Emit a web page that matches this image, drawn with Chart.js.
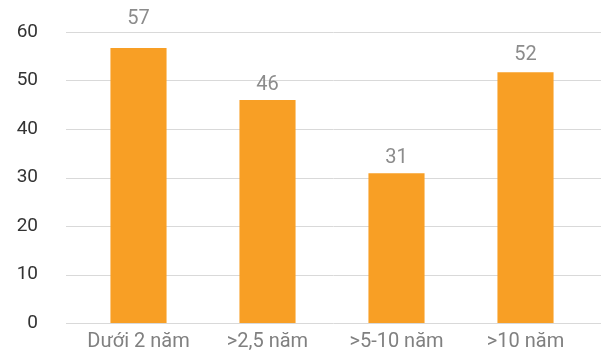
<!DOCTYPE html>
<html>
<head>
<meta charset="utf-8">
<script src="https://cdn.jsdelivr.net/npm/chart.js@4.4.0/dist/chart.umd.min.js"></script>
<style>
  html, body { margin: 0; padding: 0; background: #fff; overflow: hidden; }
  canvas { display: block; }
</style>
</head>
<body>
<canvas id="chart" width="601" height="358"></canvas>
<script>
// Dữ liệu biểu đồ
const categories = ['Dưới 2 năm', '>2,5 năm', '>5-10 năm', '>10 năm'];
const values = [56.7, 46, 30.9, 51.7];
const yTicks = [0, 10, 20, 30, 40, 50, 60];

const fontFamily = 'Roboto, "Open Sans", sans-serif';

// Vẽ đường lưới ngang kéo dài hơn vùng cột
const gridPlugin = {
  id: 'wideGrid',
  beforeDatasetsDraw(chart) {
    const ctx = chart.ctx;
    const y = chart.scales.y;
    ctx.save();
    ctx.strokeStyle = '#d9d9d9';
    ctx.lineWidth = 1;
    y.ticks.forEach(t => {
      const py = Math.round(y.getPixelForValue(t.value)) + 0.5;
      ctx.beginPath();
      ctx.moveTo(66, py);
      ctx.lineTo(chart.width, py);
      ctx.stroke();
    });
    ctx.restore();
  }
};

// Nhãn giá trị phía trên cột
const labelPlugin = {
  id: 'valueLabels',
  afterDatasetsDraw(chart, args, opts) {
    const ctx = chart.ctx;
    const meta = chart.getDatasetMeta(0);
    ctx.save();
    ctx.font = '20px ' + fontFamily;
    ctx.fillStyle = '#8c8c8c';
    ctx.textAlign = 'center';
    ctx.textBaseline = 'alphabetic';
    meta.data.forEach((bar, i) => {
      ctx.fillText(Math.round(values[i]), bar.x, bar.y - opts.gaps[i]);
    });
    ctx.restore();
  }
};

new Chart(document.getElementById('chart'), {
  type: 'bar',
  data: {
    labels: categories,
    datasets: [{
      data: values,
      backgroundColor: '#f89f25',
      barPercentage: 0.87,
      categoryPercentage: 0.5
    }]
  },
  options: {
    responsive: false,
    animation: false,
    layout: { padding: { top: 32, right: 11, left: 0, bottom: 0 } },
    plugins: {
      legend: { display: false },
      tooltip: { enabled: false },
      valueLabels: { gaps: [24, 10, 10, 12] }
    },
    scales: {
      x: {
        grid: { display: false, drawTicks: false },
        border: { display: false },
        ticks: { color: '#808080', font: { family: fontFamily, size: 20 }, padding: 7 },
        afterFit(scale) { scale.height = 35; }
      },
      y: {
        min: 0,
        max: 60,
        afterBuildTicks(scale) { scale.ticks = yTicks.map(v => ({ value: v })); },
        grid: { display: false, drawTicks: false },
        border: { display: false },
        ticks: { color: '#333333', font: { family: fontFamily, size: 19 }, padding: 36 },
        afterFit(scale) {
          scale.width = 74;
          scale.paddingTop = 0;
          scale.paddingBottom = 0;
        }
      }
    }
  },
  plugins: [gridPlugin, labelPlugin]
});
</script>
</body>
</html>
